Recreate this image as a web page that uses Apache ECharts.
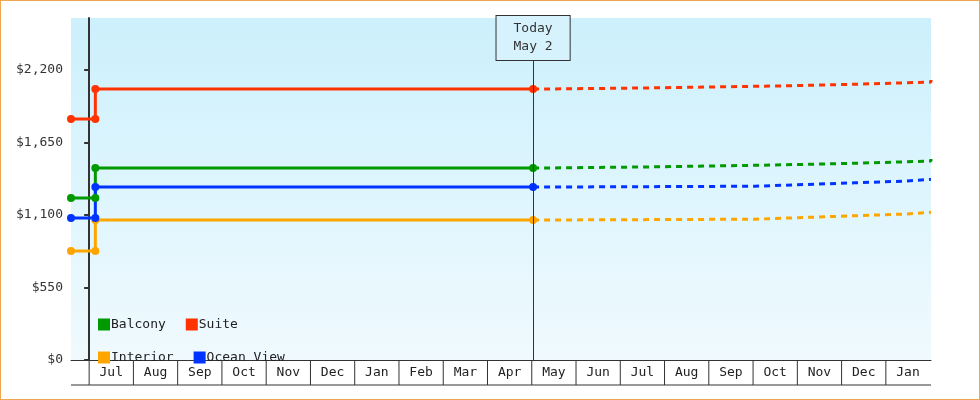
<!DOCTYPE html>
<html><head><meta charset="utf-8">
<script src="https://cdn.jsdelivr.net/npm/echarts@6/dist/echarts.min.js"></script>
<style>html,body{margin:0;padding:0;background:#fff}#c{width:980px;height:400px;box-sizing:border-box;border:1px solid #f0a850}</style>
</head><body><div id="c"></div>
<script>
// x in months since Jul 1 (Jul=0 ... Jan next=18)
const monthLabels = ['Jul','Aug','Sep','Oct','Nov','Dec','Jan','Feb','Mar','Apr','May','Jun','Jul','Aug','Sep','Oct','Nov','Dec','Jan'];
const xMin = -0.41, xMax = 19.02, todayX = 10.03, changeX = 0.14;
const yTicks = [0, 550, 1100, 1650, 2200];
const names = ['Balcony','Suite','Interior','Ocean View'];
const colors = ['#009900','#ff3300','#ffa500','#0033ff'];
const earlyPrice = [1229, 1828, 827, 1077];
const latePrice = [1457, 2056, 1062, 1312];
const futureX = [
  [10.03, 10.48, 12.51, 15.5, 17.48, 19.02],
  [10.03, 10.48, 12.51, 15.5, 17.48, 19.02],
  [10.03, 10.48, 15.04, 16.17, 17.3, 18.43, 19.02],
  [10.03, 10.48, 15.04, 16.17, 17.3, 18.43, 19.02]
];
const futureY = [
  [1457, 1464, 1479, 1494, 1509, 1524],
  [2056, 2063, 2078, 2093, 2108, 2123],
  [1062, 1068, 1081, 1094, 1107, 1120, 1124],
  [1312, 1318, 1331, 1344, 1357, 1370, 1374]
];
const font = 'DejaVu Sans Mono';
const series = [];
names.forEach((n,i)=>{
  series.push({name:n,type:'line',color:colors[i],symbol:'circle',symbolSize:8,
    lineStyle:{width:3},z:3,
    data:[[xMin,earlyPrice[i]],[changeX,earlyPrice[i]],[changeX,latePrice[i]],[todayX,latePrice[i]]]});
  series.push({name:n,type:'line',color:colors[i],step:'end',showSymbol:false,
    lineStyle:{width:3,type:[6,5]},z:2,
    data:futureX[i].map((x,k)=>[x,futureY[i][k]])});
});
series.push({type:'line',data:[],markLine:{symbol:'none',silent:true,
  lineStyle:{color:'#333',width:1,type:'solid'},
  label:{position:'end',formatter:'Today\nMay 2',fontFamily:font,fontSize:13,color:'#333',
    backgroundColor:'#d6f3fd',borderColor:'#333',borderWidth:1,padding:[4,17,4,17],lineHeight:18,distance:0},
  data:[[{coord:[todayX,0]},{coord:[todayX,2276]}]]}});
// month cells below axis
series.push({type:'custom',clip:false,silent:true,z:5,
  data:monthLabels.map((m,i)=>[i]),
  renderItem:(p,api)=>{
    const i=api.value(0);
    const a=api.coord([i,0]), b=api.coord([i+1,0]);
    const ch=[
      {type:'line',shape:{x1:a[0],y1:a[1],x2:a[0],y2:a[1]+25},style:{stroke:'#333',lineWidth:1}},
      {type:'text',style:{text:monthLabels[i],x:(a[0]+b[0])/2,y:a[1]+13,align:'center',verticalAlign:'middle',font:'13px '+font,fill:'#222'}}
    ];
    if(i===0){const l=api.coord([xMin,0]);
      ch.push({type:'line',shape:{x1:l[0],y1:a[1]+25,x2:api.coord([xMax,0])[0],y2:a[1]+25},style:{stroke:'#333',lineWidth:1}});}
    return {type:'group',children:ch};
  }});
const chart = echarts.init(document.getElementById('c'));
chart.setOption({
  animation:false,
  grid:{left:70,right:48,top:17,bottom:39,show:true,borderWidth:0,
    backgroundColor:new echarts.graphic.LinearGradient(0,0,0,1,[{offset:0,color:'#ccf0fc'},{offset:1,color:'#f0fafe'}])},
  legend:{left:92,top:312,width:200,itemWidth:12,itemHeight:12,itemGap:20,icon:'rect',
    data:names,textStyle:{fontFamily:font,fontSize:13,color:'#222',padding:[0,0,0,-4]}},
  xAxis:{type:'value',min:xMin,max:xMax,axisLine:{show:true,onZero:false,lineStyle:{color:'#333',width:1}},
    axisTick:{show:false},axisLabel:{show:false},splitLine:{show:false}},
  yAxis:{type:'value',min:0,max:2594,interval:550,
    axisLine:{show:true,lineStyle:{color:'#333',width:2}},
    axisTick:{show:true,length:5,lineStyle:{color:'#333',width:2},customValues:yTicks},
    axisLabel:{customValues:yTicks,fontFamily:font,fontSize:13,color:'#333',margin:8,
      formatter:v=>'$'+v.toLocaleString('en-US')},
    splitLine:{show:false}},
  series
});
</script></body></html>
